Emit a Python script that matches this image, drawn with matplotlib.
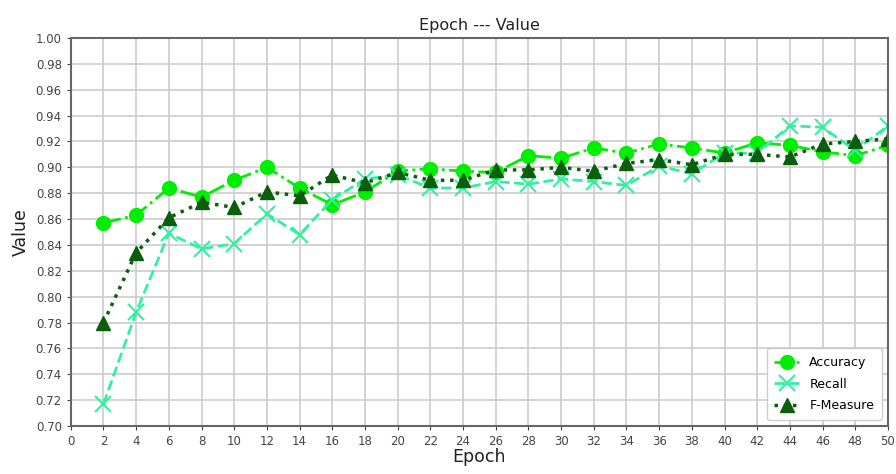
import matplotlib
matplotlib.use("Agg")
import matplotlib.pyplot as plt
import numpy as np

epochs = [2, 4, 6, 8, 10, 12, 14, 16, 18, 20, 22, 24, 26, 28, 30, 32, 34, 36, 38, 40, 42, 44, 46, 48, 50]

accuracy = [0.857, 0.863, 0.884, 0.877, 0.890, 0.900, 0.884, 0.871, 0.881, 0.897,
            0.899, 0.897, 0.896, 0.909, 0.907, 0.915, 0.911, 0.918, 0.915, 0.911,
            0.919, 0.917, 0.912, 0.909, 0.917]
recall = [0.717, 0.788, 0.849, 0.837, 0.841, 0.864, 0.848, 0.875, 0.891, 0.894,
          0.884, 0.884, 0.889, 0.887, 0.891, 0.889, 0.886, 0.901, 0.895, 0.911,
          0.911, 0.932, 0.931, 0.913, 0.932]
fmeasure = [0.780, 0.834, 0.861, 0.873, 0.869, 0.881, 0.878, 0.894, 0.888, 0.896,
            0.890, 0.890, 0.898, 0.898, 0.900, 0.897, 0.903, 0.906, 0.902, 0.910,
            0.910, 0.908, 0.918, 0.920, 0.922]

fig = plt.figure(figsize=(8.96, 4.74), dpi=100)
ax = fig.add_axes([0.079, 0.101, 0.912, 0.819])

ax.plot(epochs, accuracy, '-.o', color='#00ee00', linewidth=2.0, markersize=10, label='Accuracy')
ax.plot(epochs, recall, '--x', color='#33f0a0', linewidth=2.0, markersize=11, markeredgewidth=1.5, label='Recall')
ax.plot(epochs, fmeasure, ':^', color='#0b5e0b', linewidth=2.5, markersize=9.5, label='F-Measure')

ax.set_xlim(0, 50)
ax.set_ylim(0.70, 1.00)
ax.set_xticks(np.arange(0, 51, 2))
ax.set_yticks(np.arange(0.70, 1.001, 0.02))
ax.yaxis.set_major_formatter(matplotlib.ticker.FormatStrFormatter('%.2f'))
ax.tick_params(labelsize=8.5, colors='#444444', direction='out', length=3)
ax.grid(True, color='#cccccc', linewidth=1.2)
for s in ax.spines.values():
    s.set_color('#666666')
    s.set_linewidth(1.5)

ax.set_title('Epoch --- Value', fontsize=11.5, color='#222222')
ax.set_xlabel('Epoch', fontsize=12.5, color='#222222', labelpad=0)
ax.set_ylabel('Value', fontsize=12.5, color='#222222')

ax.legend(loc='lower right', fontsize=9, framealpha=1.0, handlelength=2.0,
          labelspacing=0.7, borderpad=0.6)

plt.savefig('out.png', dpi=100)
